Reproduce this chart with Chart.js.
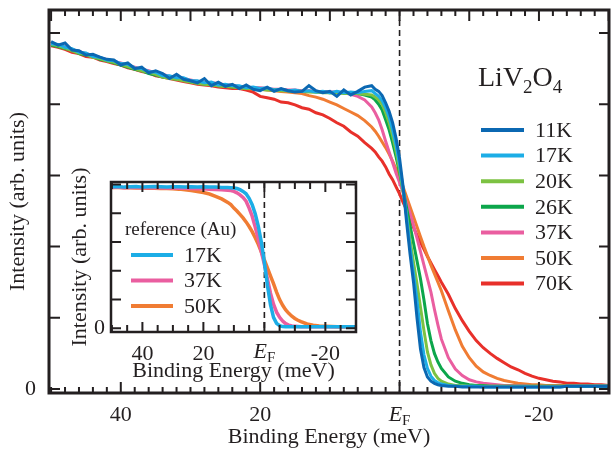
<!DOCTYPE html>
<html lang="en">
<head>
  <meta charset="UTF-8">
  <title>LiV2O4 - Fermi edge</title>
  <script src="https://cdn.jsdelivr.net/npm/chart.js"></script>
  <style>
    body { margin: 0; background: #fff; }
    #wrap { position: relative; width: 611px; height: 453px; }
    #wrap canvas { position: absolute; left: 0; top: 0; }
  </style>
</head>
<body>
  <div id="wrap">
    <canvas id="grafico" width="611" height="453"></canvas>
    <canvas id="inset" width="611" height="453"></canvas>
  </div>

  <script>
    // binding energy grid (meV) for the LiV2O4 spectra
    const energy = [50,49,48,47,46,45,44,43,42,41,40,39,38,37,36,35,34,33,32,31,30,29,28,27,26,25,24,23,22,21,20,19,18,17,16,15,14,13,12,11,10,9,8,7,6,5,
      4,3.5,3,2.5,2,1.5,1,0.5,0,-0.5,-1,-1.5,-2,-2.5,-3,-3.5,-4,-4.5,-5,-5.5,-6,
      -7,-8,-9,-10,-11,-12,-13,-14,-15,-16,-17,-18,-19,-20,-21,-22,-23,-24,-25,-26,-27,-28,-29,-30];

    const temps = ['11K', '17K', '20K', '26K', '37K', '50K', '70K'];
    const colors = ['#0b68b2', '#1cade6', '#7cc242', '#0ca64b', '#ea5ea0', '#f07c33', '#e8302a'];

    const k11 = [4.88,4.83,4.86,4.76,4.75,4.69,4.70,4.66,4.63,4.62,
      4.55,4.58,4.50,4.52,4.44,4.47,4.43,4.36,4.42,4.35,
      4.33,4.30,4.36,4.26,4.31,4.25,4.28,4.22,4.27,4.21,
      4.19,4.24,4.18,4.22,4.19,4.17,4.18,4.26,4.19,4.16,
      4.18,4.11,4.20,4.13,4.18,4.24,
      4.26,4.21,4.18,4.12,4.02,3.90,3.74,3.52,3.24,2.85,2.35,1.90,1.50,1.00,0.56,0.30,0.17,0.11,0.08,0.06,0.05,
      0.04,0.04,0.03,0.03,0.03,0.03,0.03,0.03,0.03,0.03,0.03,0.03,0.03,0.03,0.03,0.03,0.03,0.04,0.04,0.04,0.04,0.04,0.04,0.04];
    const k17 = [4.85,4.84,4.80,4.78,4.73,4.72,4.67,4.66,4.62,4.61,
      4.57,4.56,4.51,4.50,4.46,4.45,4.40,4.40,4.37,4.37,
      4.33,4.33,4.30,4.31,4.27,4.28,4.26,4.26,4.23,4.24,
      4.22,4.23,4.20,4.21,4.19,4.20,4.18,4.19,4.17,4.18,
      4.16,4.18,4.16,4.17,4.16,4.18,
      4.19,4.15,4.11,4.05,3.95,3.82,3.64,3.42,3.15,2.82,2.43,2.00,1.62,1.25,0.80,0.48,0.29,0.18,0.12,0.09,0.07,
      0.05,0.04,0.04,0.04,0.04,0.03,0.03,0.03,0.03,0.03,0.03,0.03,0.03,0.03,0.03,0.03,0.03,0.04,0.04,0.04,0.04,0.04,0.04,0.04];
    const k20 = [4.84,4.82,4.79,4.75,4.72,4.70,4.66,4.64,4.61,4.59,
      4.56,4.53,4.50,4.47,4.45,4.42,4.38,4.36,4.35,4.33,
      4.31,4.29,4.28,4.27,4.26,4.25,4.24,4.23,4.22,4.22,
      4.21,4.20,4.20,4.19,4.19,4.18,4.18,4.17,4.17,4.16,
      4.16,4.16,4.15,4.15,4.15,4.14,
      4.13,4.10,4.06,4.00,3.88,3.74,3.56,3.34,3.08,2.78,2.45,2.10,1.78,1.48,1.15,0.82,0.52,0.34,0.22,0.15,0.11,
      0.07,0.05,0.05,0.04,0.04,0.04,0.04,0.04,0.04,0.04,0.04,0.04,0.04,0.04,0.04,0.04,0.04,0.04,0.04,0.04,0.04,0.04,0.04,0.04];
    const k26 = [4.83,4.81,4.78,4.76,4.71,4.69,4.67,4.63,4.61,4.58,
      4.55,4.52,4.49,4.47,4.43,4.41,4.38,4.37,4.35,4.34,
      4.31,4.30,4.28,4.28,4.26,4.26,4.24,4.24,4.22,4.22,
      4.21,4.21,4.20,4.20,4.19,4.19,4.18,4.18,4.17,4.17,
      4.16,4.16,4.16,4.15,4.15,4.13,
      4.10,4.06,4.00,3.92,3.78,3.64,3.46,3.26,3.04,2.80,2.55,2.30,2.05,1.80,1.55,1.25,0.92,0.68,0.50,0.38,0.29,
      0.17,0.11,0.08,0.06,0.05,0.05,0.04,0.04,0.04,0.04,0.04,0.04,0.04,0.04,0.04,0.04,0.04,0.04,0.04,0.04,0.04,0.04,0.04,0.04];
    const k37 = [4.86,4.83,4.81,4.77,4.74,4.71,4.69,4.65,4.63,4.60,
      4.58,4.55,4.52,4.49,4.47,4.44,4.42,4.39,4.38,4.36,
      4.34,4.32,4.31,4.30,4.29,4.27,4.27,4.25,4.24,4.23,
      4.23,4.22,4.21,4.21,4.20,4.20,4.19,4.19,4.18,4.18,
      4.17,4.17,4.16,4.14,4.11,4.06,
      3.96,3.88,3.78,3.64,3.48,3.33,3.18,3.03,2.90,2.76,2.62,2.47,2.30,2.12,1.93,1.74,1.55,1.36,1.12,0.90,0.70,
      0.44,0.28,0.19,0.13,0.10,0.08,0.07,0.06,0.05,0.05,0.05,0.05,0.04,0.04,0.04,0.04,0.04,0.04,0.04,0.04,0.04,0.04,0.04,0.04];
    const k50 = [4.84,4.81,4.78,4.76,4.72,4.70,4.66,4.64,4.61,4.58,
      4.56,4.53,4.49,4.47,4.45,4.42,4.39,4.37,4.36,4.34,
      4.32,4.30,4.29,4.28,4.26,4.25,4.25,4.23,4.22,4.21,
      4.21,4.20,4.19,4.18,4.17,4.16,4.15,4.12,4.10,4.07,
      4.03,3.99,3.94,3.89,3.84,3.77,
      3.68,3.62,3.55,3.47,3.39,3.30,3.20,3.09,2.97,2.84,2.70,2.56,2.42,2.28,2.14,2.00,1.87,1.74,1.62,1.50,1.38,
      1.10,0.83,0.60,0.44,0.32,0.24,0.19,0.15,0.12,0.10,0.08,0.07,0.06,0.06,0.05,0.05,0.05,0.05,0.05,0.05,0.05,0.05,0.05,0.05];
    const k70 = [4.82,4.80,4.77,4.73,4.71,4.67,4.66,4.62,4.60,4.57,
      4.55,4.51,4.49,4.46,4.44,4.40,4.38,4.36,4.34,4.32,
      4.30,4.28,4.27,4.26,4.24,4.23,4.22,4.22,4.20,4.17,
      4.11,4.09,4.07,4.03,4.02,3.99,3.95,3.93,3.88,3.85,
      3.80,3.74,3.69,3.61,3.55,3.46,
      3.38,3.33,3.26,3.20,3.12,3.02,2.94,2.84,2.74,2.62,2.52,2.40,2.27,2.16,2.06,1.96,1.86,1.77,1.68,1.59,1.50,
      1.33,1.13,0.96,0.81,0.68,0.58,0.50,0.43,0.37,0.31,0.27,0.22,0.18,0.15,0.13,0.11,0.10,0.08,0.08,0.07,0.07,0.06,0.06,0.05];
    const spectra = [k11, k17, k20, k26, k37, k50, k70];

    // inset: gold reference
    const auEnergy = [50,48,46,44,42,40,38,36,34,32,30,28,26,24,22,20,18,16,14,12,
      11,10,9,8,7,6,5,4,3,2,1,0,-1,-2,-3,-4,-5,-6,-7,-8,-9,-10,-11,-12,
      -14,-16,-18,-20,-22,-24,-26,-28,-30];
    const auTemps = ['17K', '37K', '50K'];
    const auColors = ['#1cade6', '#ea5ea0', '#f07c33'];
    const au17 = [4.92,4.93,4.91,4.92,4.93,4.91,4.92,4.93,4.92,4.91,4.92,4.92,4.91,4.92,4.91,4.92,4.91,4.91,4.90,4.90,
      4.89,4.88,4.86,4.82,4.76,4.68,4.52,4.30,3.98,3.55,3.00,2.30,1.50,0.82,0.38,0.17,0.09,0.06,0.05,0.05,0.05,0.05,0.05,0.05,
      0.05,0.05,0.05,0.05,0.05,0.05,0.05,0.05,0.05];
    const au37 = [4.90,4.91,4.89,4.90,4.90,4.89,4.90,4.89,4.89,4.88,4.88,4.87,4.87,4.86,4.85,4.85,4.84,4.83,4.82,4.80,
      4.79,4.76,4.71,4.64,4.55,4.42,4.18,3.90,3.52,3.10,2.66,2.22,1.72,1.22,0.84,0.56,0.38,0.25,0.16,0.11,0.08,0.07,0.06,0.05,
      0.05,0.05,0.05,0.05,0.05,0.05,0.05,0.05,0.05];
    const au50 = [4.90,4.90,4.89,4.89,4.88,4.88,4.87,4.87,4.86,4.86,4.85,4.84,4.82,4.79,4.76,4.72,4.67,4.59,4.50,4.38,
      4.30,4.18,4.08,3.96,3.84,3.70,3.54,3.36,3.15,2.92,2.66,2.38,2.10,1.82,1.55,1.26,1.00,0.80,0.64,0.52,0.42,0.34,0.28,0.23,
      0.15,0.11,0.08,0.07,0.06,0.05,0.05,0.05,0.05];
    const auSpectra = [au17, au37, au50];

    const xLabels = [40, 20, 0, -20];
    const yLabels = [0];
    const yTickMarks = [0, 1, 2, 3, 4, 5];

    const ink = '#231f20';
    const serif = "'Liberation Serif', 'Times New Roman', serif";

    function serie(xs, ys, label, color, width) {
      return {
        label: label,
        data: xs.map((e, i) => ({ x: e, y: ys[i] })),
        borderColor: color,
        borderWidth: width,
        pointRadius: 0,
        fill: false,
        tension: 0
      };
    }

    // frame, inward ticks, dashed E_F line and the E_F tick label
    const moldura = {
      id: 'moldura',
      beforeDatasetsDraw(chart, args, o) {
        const { ctx, chartArea: a, scales: { x } } = chart;
        const xf = x.getPixelForValue(0);
        ctx.save();
        ctx.strokeStyle = ink;
        ctx.lineWidth = o.dashWidth;
        ctx.setLineDash(o.dash);
        ctx.beginPath(); ctx.moveTo(xf, a.top); ctx.lineTo(xf, a.bottom); ctx.stroke();
        ctx.restore();
      },
      afterDatasetsDraw(chart, args, o) {
        const { ctx, chartArea: a, scales: { x, y } } = chart;
        ctx.save();
        ctx.strokeStyle = ink;
        ctx.lineWidth = o.tickWidth;
        ctx.beginPath();
        for (let v = -30; v <= 50; v += o.xStep) {
          const px = x.getPixelForValue(v);
          const lb = v % o.bottomMajor === 0 ? o.major : o.minor;
          const lt = v % o.topMajor === 0 ? o.major : o.minor;
          ctx.moveTo(px, a.bottom); ctx.lineTo(px, a.bottom - lb);
          ctx.moveTo(px, a.top); ctx.lineTo(px, a.top + lt);
        }
        yTickMarks.forEach(v => {
          const py = y.getPixelForValue(v);
          ctx.moveTo(a.left, py); ctx.lineTo(a.left + o.yLeft, py);
          ctx.moveTo(a.right, py); ctx.lineTo(a.right - o.yRight, py);
        });
        ctx.stroke();
        ctx.lineWidth = o.frameWidth;
        ctx.strokeRect(a.left, a.top, a.right - a.left, a.bottom - a.top);

        // E_F label
        const xf = x.getPixelForValue(0);
        ctx.fillStyle = ink;
        ctx.textBaseline = 'alphabetic';
        ctx.font = 'italic 22px ' + serif;
        const wE = ctx.measureText('E').width;
        ctx.font = '15px ' + serif;
        const wF = ctx.measureText('F').width;
        const x0 = xf - (wE + wF) / 2;
        const yb = a.bottom + o.efBase;
        ctx.font = 'italic 22px ' + serif;
        ctx.fillText('E', x0, yb);
        ctx.font = '15px ' + serif;
        ctx.fillText('F', x0 + wE, yb + 4);
        ctx.restore();
      }
    };

    const legenda = {
      id: 'legenda',
      afterDraw(chart, args, o) {
        const ctx = chart.ctx;
        ctx.save();
        ctx.fillStyle = ink;
        ctx.textBaseline = 'alphabetic';
        let tx = o.titleX;
        o.title.forEach(p => {
          ctx.font = p.size + 'px ' + serif;
          ctx.fillText(p.text, tx, o.titleY + p.dy);
          tx += ctx.measureText(p.text).width;
        });
        ctx.textBaseline = 'middle';
        ctx.font = o.size + 'px ' + serif;
        chart.data.datasets.forEach((ds, i) => {
          const yy = o.y0 + i * o.dy;
          ctx.strokeStyle = ds.borderColor;
          ctx.lineWidth = o.lineWidth;
          ctx.beginPath(); ctx.moveTo(o.x0, yy); ctx.lineTo(o.x1, yy); ctx.stroke();
          ctx.fillText(ds.label, o.textX, yy + 1);
        });
        ctx.restore();
      }
    };

    function eixos(cfg) {
      return {
        x: {
          type: 'linear', reverse: true, min: -30.05, max: 50.3,
          grid: { display: false, drawTicks: false }, border: { display: false },
          afterBuildTicks: s => { s.ticks = xLabels.map(v => ({ value: v })); },
          afterFit: s => { s.height = cfg.xHeight; s.paddingLeft = 0; s.paddingRight = 0; },
          ticks: { color: ink, font: { family: serif, size: 22 }, padding: cfg.xPad, maxRotation: 0, autoSkip: false,
                   callback: v => v === 0 ? '' : String(v) },
          title: { display: true, text: 'Binding Energy (meV)', color: ink, font: { family: serif, size: 22 },
                   padding: { top: 0, bottom: cfg.xTitlePad } }
        },
        y: {
          type: 'linear', min: cfg.yMin, max: cfg.yMax,
          grid: { display: false, drawTicks: false }, border: { display: false },
          afterBuildTicks: s => { s.ticks = yLabels.map(v => ({ value: v })); },
          afterFit: s => { s.width = cfg.yWidth; s.paddingTop = 0; s.paddingBottom = 0; },
          ticks: { color: ink, font: { family: serif, size: 22 }, padding: cfg.yPad },
          title: { display: true, text: 'Intensity (arb. units)', color: ink, font: { family: serif, size: 22 },
                   padding: { top: cfg.yTitlePad, bottom: 0 } }
        }
      };
    }

    new Chart(document.getElementById('grafico'), {
      type: 'line',
      data: { datasets: spectra.map((s, i) => serie(energy, s, temps[i], colors[i], 3)) },
      options: {
        responsive: false, animation: false, devicePixelRatio: 1,
        layout: { padding: { left: 0, top: 10, right: 2, bottom: 0 } },
        scales: eixos({ xHeight: 60, xPad: 9, xTitlePad: 3, yMin: -0.056, yMax: 5.323, yWidth: 49, yPad: 13, yTitlePad: 5 }),
        plugins: {
          legend: { display: false }, tooltip: { enabled: false },
          moldura: { dash: [6, 4], dashWidth: 1.6, tickWidth: 2, frameWidth: 3, xStep: 2, bottomMajor: 20, topMajor: 10,
                     major: 11, minor: 6, yLeft: 11, yRight: 10, efBase: 28 },
          legenda: { title: [{ text: 'LiV', size: 28, dy: 0 }, { text: '2', size: 19, dy: 7 }, { text: 'O', size: 28, dy: 0 }, { text: '4', size: 19, dy: 7 }],
                     titleX: 478, titleY: 86, size: 22, x0: 481, x1: 524, textX: 535, y0: 130, dy: 25.6, lineWidth: 4 }
        }
      },
      plugins: [moldura, legenda]
    });

    new Chart(document.getElementById('inset'), {
      type: 'line',
      data: { datasets: auSpectra.map((s, i) => serie(auEnergy, s, auTemps[i], auColors[i], 3.5)) },
      options: {
        responsive: false, animation: false, devicePixelRatio: 1,
        layout: { padding: { left: 66, top: 182, right: 255, bottom: 69 } },
        scales: eixos({ xHeight: 52, xPad: 9, xTitlePad: 0, yMin: -0.129, yMax: 5.088, yWidth: 45, yPad: 6, yTitlePad: 1 }),
        plugins: {
          legend: { display: false }, tooltip: { enabled: false },
          moldura: { dash: [6, 4], dashWidth: 1.6, tickWidth: 2, frameWidth: 2.5, xStep: 5, bottomMajor: 20, topMajor: 20,
                     major: 10, minor: 7, yLeft: 10, yRight: 10, efBase: 26 },
          legenda: { title: [{ text: 'reference (Au)', size: 19, dy: 0 }],
                     titleX: 125, titleY: 235, size: 22, x0: 131, x1: 173, textX: 184, y0: 255, dy: 25.5, lineWidth: 4 }
        }
      },
      plugins: [moldura, legenda]
    });
  </script>
</body>
</html>
